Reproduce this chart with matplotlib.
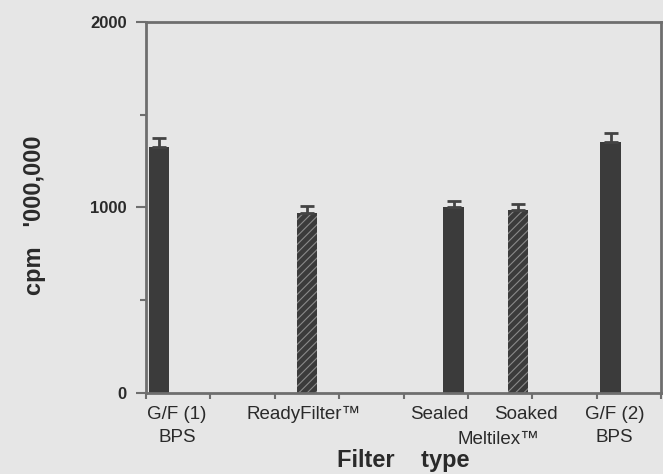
import matplotlib.pyplot as plt
from matplotlib.transforms import blended_transform_factory

# values
categories = ['G/F (1) BPS', 'ReadyFilter', 'Sealed Meltilex', 'Soaked Meltilex', 'G/F (2) BPS']
positions = [0.2, 2.5, 4.78, 5.78, 7.22]
counts = [1325, 968, 1000, 985, 1355]
errors = [52, 42, 36, 33, 48]
hatched = [False, True, False, True, False]

# tick-label texts under the axis
label_texts = ['G/F (1)\nBPS', 'ReadyFilter\u2122', 'Sealed', 'Soaked', 'Meltilex\u2122', 'G/F (2)\nBPS']
label_x = [0.48, 2.45, 4.56, 5.9, 5.47, 7.28]
label_y = [-0.035, -0.035, -0.035, -0.035, -0.102, -0.035]

bg = '#e6e6e6'
bar_col = '#3b3b3b'
axis_col = '#6e6e6e'
txt_col = '#2a2a2a'

plt.rcParams['font.family'] = ['Liberation Sans', 'DejaVu Sans']
plt.rcParams['hatch.linewidth'] = 0.8

fig = plt.figure(figsize=(6.63, 4.74), dpi=100, facecolor=bg)
ax = fig.add_axes([0.2202, 0.1709, 0.7768, 0.7827], facecolor=bg)

for x, h, e, hat in zip(positions, counts, errors, hatched):
    if hat:
        ax.bar(x, h, width=0.3, color=bar_col, hatch='////', edgecolor='#8a8a8a', linewidth=0)
    else:
        ax.bar(x, h, width=0.32, color=bar_col, linewidth=0)
    ax.errorbar(x, h, yerr=[[0], [e]], color='#444444', capsize=5, capthick=2, elinewidth=2)

ax.set_xlim(0, 8)
ax.set_ylim(0, 2000)
ax.set_xticks(range(9))
ax.set_xticklabels([])
ax.set_yticks([0, 1000, 2000])
ax.set_yticks([500, 1500], minor=True)
ax.tick_params(axis='y', which='major', length=7, width=1.5, color=axis_col,
               labelsize=12, labelcolor=txt_col, pad=7)
ax.tick_params(axis='y', which='minor', length=4, width=1.5, color=axis_col)
ax.tick_params(axis='x', length=4, width=1.5, color=axis_col)
for lab in ax.get_yticklabels():
    lab.set_fontweight('bold')
for s in ax.spines.values():
    s.set_color(axis_col)
    s.set_linewidth(2)

trans = blended_transform_factory(ax.transData, ax.transAxes)
for t, x, y in zip(label_texts, label_x, label_y):
    ax.text(x, y, t, transform=trans, ha='center', va='top', fontsize=13.5,
            color=txt_col, linespacing=1.45)

ax.set_xlabel('Filter    type', fontsize=17, fontweight='bold', color=txt_col)
ax.xaxis.set_label_coords(0.5, -0.152)
ax.set_ylabel("cpm   '000,000", fontsize=17, fontweight='bold', color=txt_col)
ax.yaxis.set_label_coords(-0.195, 0.48)

fig.savefig('out.png', dpi=100, facecolor=bg)
